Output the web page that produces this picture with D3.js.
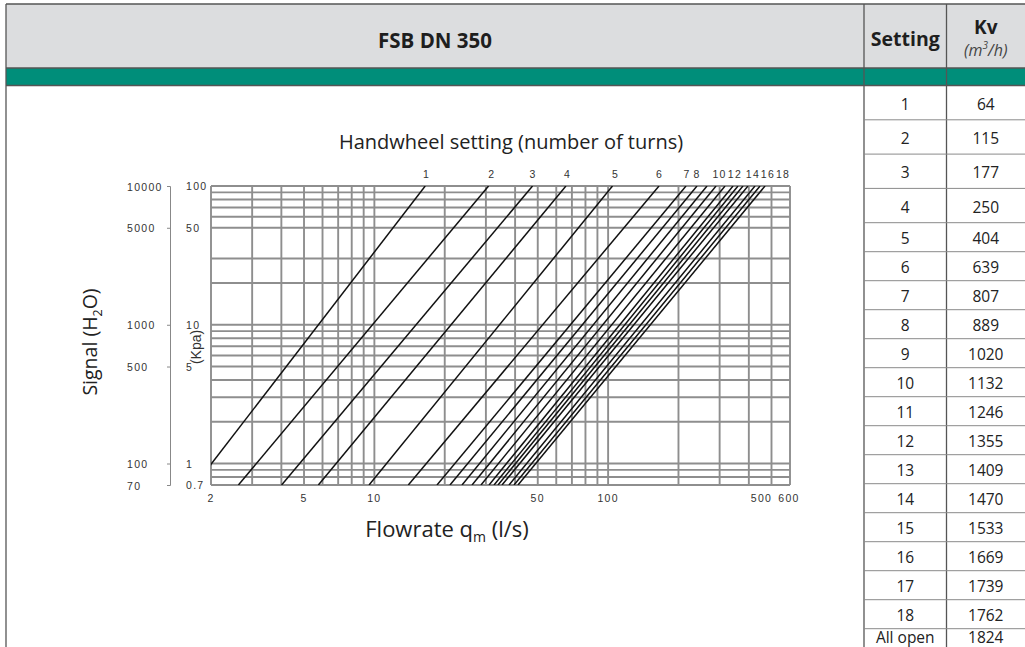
<!DOCTYPE html>
<html><head><meta charset="utf-8">
<script src="https://cdn.jsdelivr.net/npm/d3@7"></script>
<style>body{margin:0;background:#fff}svg{display:block}</style>
</head><body>
<svg id="c" width="1025" height="647"></svg>
<script>
// ---------- data ----------
const settings = ["1","2","3","4","5","6","7","8","9","10","11","12","13","14","15","16","17","18","All open"];
const kvValues = [64,115,177,250,404,639,807,889,1020,1132,1246,1355,1409,1470,1533,1669,1739,1762,1824];
// flow (l/s) of each handwheel curve at 100 kPa (top) and at 0.7 kPa (bottom)
const flowTop    = [16.5,30.8,47.5,66.0,104.4,165.1,215.4,240.0,264.9,289.5,316.3,342.3,359.5,377.6,396.7,425.0,446.6,469.1];
const flowBottom = [1.71,2.62,4.01,5.76,9.49,13.97,18.53,21.06,23.71,26.17,28.58,30.94,32.50,33.80,35.16,37.67,39.57,41.16];
const turnLabels    = ["1","2","3","4","5","6","7","8","10","12","14","16","18"];
const turnLabelFlow = [16.74,31.77,47.7,67.0,107.6,165.9,217.6,240.0,299.7,349.0,416.7,483.1,560.2];
const flowGrid = [2,3,4,5,6,7,8,9,10,20,30,40,50,60,70,80,90,100,200,300,400,500,600];
const kpaGrid  = [100,90,80,70,60,50,30,20,10,9,8,7,6,5,4,3,2,1,0.9,0.8,0.7];
const flowTicks = [2,5,10,50,100,500,600];
const kpaTicks  = [100,50,10,5,1,0.7];
const mmTicks   = [10000,5000,1000,500,100,70];

// ---------- layout ----------
const svg = d3.select("#c");
const L = 211, R = 790, T = 186, B = 485;
const x = d3.scaleLog().domain([2,600]).range([L,R]);
const y = d3.scaleLog().domain([0.7,100]).range([B,T]);
const yMm = d3.scaleLog().domain([70,10000]).range([B,T]);

// table frame
const colA = 864, colB = 946.5, W = 1025;
svg.append("rect").attr("x",6).attr("y",4).attr("width",W-6).attr("height",64).attr("fill","#dcdddf");
svg.append("rect").attr("x",6).attr("y",68).attr("width",W-6).attr("height",17.5).attr("fill","#008e7a");
const frame = svg.append("g").attr("stroke","#555").attr("stroke-width",1.3);
frame.append("line").attr("x1",6).attr("x2",W).attr("y1",4).attr("y2",4);
frame.append("line").attr("x1",6).attr("x2",W).attr("y1",68).attr("y2",68);
frame.append("line").attr("x1",6).attr("x2",W).attr("y1",85.5).attr("y2",85.5);
[6,colA,colB].forEach(cx=>frame.append("line").attr("x1",cx).attr("x2",cx).attr("y1",4).attr("y2",647));

// header texts
svg.append("text").attr("x",435).attr("y",40).attr("text-anchor","middle").attr("dominant-baseline","central")
  .attr("font-family","Open Sans").attr("font-weight","bold").attr("font-size",20.5).attr("fill","#1e1e1e").text("FSB DN 350");
svg.append("text").attr("x",(colA+colB)/2).attr("y",38).attr("text-anchor","middle").attr("dominant-baseline","central")
  .attr("font-family","Open Sans").attr("font-weight","bold").attr("font-size",19.5).attr("fill","#1e1e1e").text("Setting");
svg.append("text").attr("x",(colB+W)/2).attr("y",27).attr("text-anchor","middle").attr("dominant-baseline","central")
  .attr("font-family","Open Sans").attr("font-weight","bold").attr("font-size",19).attr("fill","#1e1e1e").text("Kv");
const unit = svg.append("text").attr("x",(colB+W)/2).attr("y",50).attr("text-anchor","middle").attr("dominant-baseline","central")
  .attr("font-family","Open Sans").attr("font-style","italic").attr("font-size",16).attr("fill","#444");
unit.append("tspan").text("(m");
unit.append("tspan").attr("font-size",10).attr("dy",-5).text("3");
unit.append("tspan").attr("dy",5).text("/h)");

// table rows
function rowTop(i){ return i < 4 ? 85.5 + i*34.3 : 85.5 + 4*34.3 + (i-4)*29; }
const rows = svg.append("g");
settings.forEach((s,i)=>{
  const t = rowTop(i), b = rowTop(i+1);
  if (i < settings.length-1)
    rows.append("line").attr("x1",colA).attr("x2",W).attr("y1",b).attr("y2",b).attr("stroke","#8a8a8a").attr("stroke-width",1);
  const cy = i < settings.length-1 ? (t+b)/2 + 1 : t + 8;
  rows.append("text").attr("x",(colA+colB)/2).attr("y",cy).attr("text-anchor","middle").attr("dominant-baseline","central")
    .attr("font-family","Open Sans").attr("font-size",15.5).attr("fill","#222").text(s);
  rows.append("text").attr("x",(colB+W)/2).attr("y",cy).attr("text-anchor","middle").attr("dominant-baseline","central")
    .attr("font-family","Open Sans").attr("font-size",15.5).attr("fill","#222").text(kvValues[i]);
});

// ---------- chart ----------
const grid = svg.append("g").attr("stroke","#8e8e8e").attr("stroke-width",1.9);
grid.selectAll("line.v").data(flowGrid).join("line").attr("class","v")
  .attr("x1",d=>x(d)).attr("x2",d=>x(d)).attr("y1",T).attr("y2",B);
grid.selectAll("line.h").data(kpaGrid).join("line").attr("class","h")
  .attr("x1",L).attr("x2",R).attr("y1",d=>y(d)).attr("y2",d=>y(d));

svg.append("clipPath").attr("id","plot").append("rect").attr("x",L).attr("y",T).attr("width",R-L).attr("height",B-T);
const line = d3.line().x(d=>x(d[0])).y(d=>y(d[1]));
svg.append("g").attr("clip-path","url(#plot)").selectAll("path").data(flowTop).join("path")
  .attr("d",(d,i)=>line([[flowBottom[i],0.7],[flowTop[i],100]]))
  .attr("fill","none").attr("stroke","#111").attr("stroke-width",1.5);

const numFont = g => g.attr("font-family","Liberation Sans").attr("font-size",10.5).attr("letter-spacing",1.3).attr("fill","#333");

// handwheel labels
svg.append("g").call(numFont).selectAll("text").data(turnLabels).join("text")
  .attr("x",(d,i)=>x(turnLabelFlow[i])).attr("y",174).attr("text-anchor","middle").attr("dominant-baseline","central").text(d=>d);

// flow tick labels
svg.append("g").call(numFont).selectAll("text").data(flowTicks).join("text")
  .attr("x",d=>x(d) + (d===500 ? -10 : d===600 ? -1 : 0)).attr("y",498).attr("text-anchor","middle").attr("dominant-baseline","central").text(d=>d);

// kPa labels
svg.append("g").call(numFont).selectAll("text").data(kpaTicks).join("text")
  .attr("x",186).attr("y",d=>y(d)).attr("dominant-baseline","central").text(d=>d);

// outer mm H2O axis
const ax = svg.append("g").attr("transform","translate(170,0)")
  .call(d3.axisLeft(yMm).tickValues(mmTicks).tickSize(3).tickSizeOuter(3).tickFormat(d3.format("d")));
ax.select(".domain").attr("stroke","#888");
ax.selectAll(".tick line").attr("stroke","#888");
ax.selectAll(".tick text").attr("text-anchor","start").attr("x",-43).attr("dy",null).attr("dominant-baseline","central")
  .call(numFont);

// axis titles
svg.append("text").attr("transform","translate(201,347) rotate(-90)").attr("text-anchor","middle")
  .attr("font-family","Liberation Sans").attr("font-size",14).attr("fill","#333").text("(Kpa)");

const sig = svg.append("text").attr("transform","translate(97,342) rotate(-90)").attr("text-anchor","middle")
  .attr("font-family","Open Sans").attr("font-size",19.5).attr("fill","#222");
sig.append("tspan").text("Signal (H");
sig.append("tspan").attr("font-size",12.5).attr("dy",5).text("2");
sig.append("tspan").attr("dy",-5).text("O)");

svg.append("text").attr("x",511).attr("y",149).attr("text-anchor","middle")
  .attr("font-family","Open Sans").attr("font-size",20).attr("fill","#222").text("Handwheel setting (number of turns)");

const fr = svg.append("text").attr("x",447).attr("y",537).attr("text-anchor","middle")
  .attr("font-family","Open Sans").attr("font-size",22).attr("fill","#222");
fr.append("tspan").text("Flowrate q");
fr.append("tspan").attr("font-size",14).attr("dy",5).text("m");
fr.append("tspan").attr("dy",-5).text(" (l/s)");
</script>
</body></html>
